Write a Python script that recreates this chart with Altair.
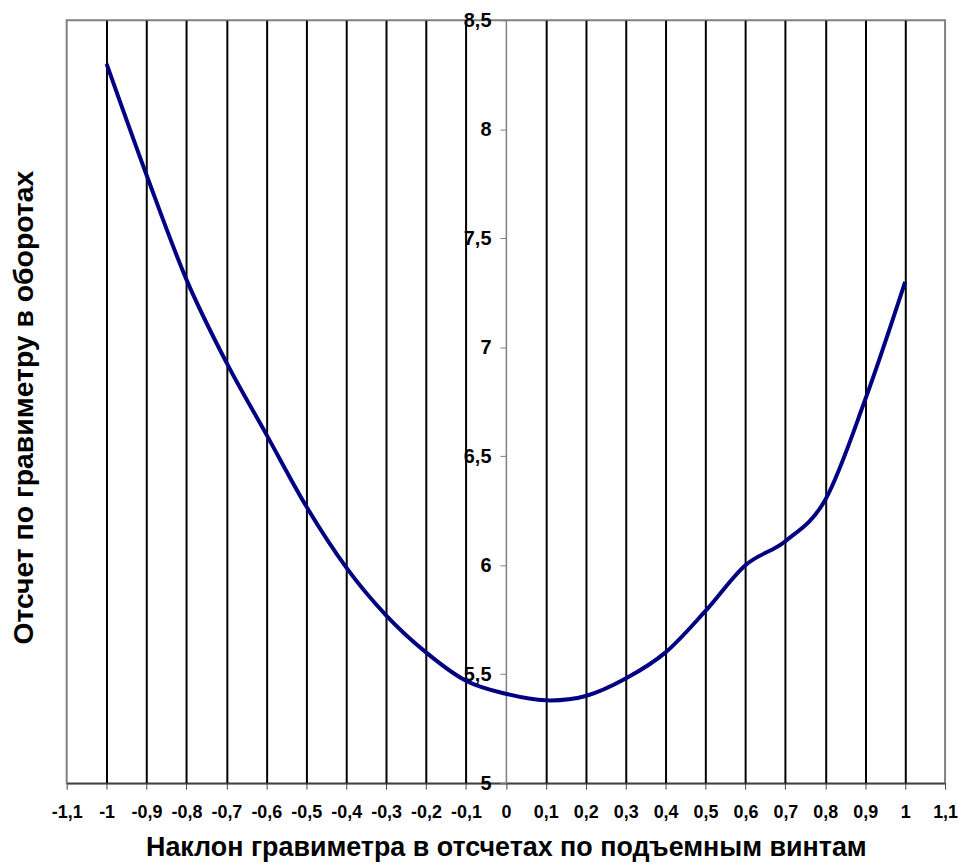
import altair as alt
import pandas as pd

# Data
x_vals = [-1.0, -0.9, -0.8, -0.7, -0.6, -0.5, -0.4, -0.3, -0.2, -0.1, 0.0,
          0.1, 0.2, 0.3, 0.4, 0.5, 0.6, 0.7, 0.8, 0.9, 1.0]
y_vals = [8.30, 7.79, 7.31, 6.93, 6.60, 6.27, 5.99, 5.77, 5.60, 5.47, 5.41,
          5.38, 5.40, 5.48, 5.60, 5.79, 6.00, 6.11, 6.30, 6.76, 7.30]

x_ticks = [-1.1, -1.0, -0.9, -0.8, -0.7, -0.6, -0.5, -0.4, -0.3, -0.2, -0.1, 0.0,
           0.1, 0.2, 0.3, 0.4, 0.5, 0.6, 0.7, 0.8, 0.9, 1.0, 1.1]
y_ticks = [5.0, 5.5, 6.0, 6.5, 7.0, 7.5, 8.0, 8.5]

x_title = "Наклон гравиметра в отсчетах  по подъемным винтам"
y_title = "Отсчет по гравиметру в оборотах"

df = pd.DataFrame({"x": x_vals, "y": y_vals})

FONT = "Liberation Sans"
label_expr = "replace(toString(datum.value), '.', ',')"

W, H = 883, 767

chart = alt.Chart(df).mark_line(
    interpolate="cardinal", color="#000080", strokeWidth=4
).encode(
    x=alt.X(
        "x:Q",
        scale=alt.Scale(domain=[-1.1, 1.1], nice=False, zero=False),
        axis=alt.Axis(
            values=x_ticks,
            labelExpr=label_expr,
            title=x_title,
            grid=True,
            gridColor="black",
            gridWidth=2,
            gridOpacity={"condition": {"test": "abs(datum.value) < 0.05 || abs(datum.value) > 1.05", "value": 0}, "value": 1},
            domainColor="#404040",
            domainWidth=1.5,
            tickColor="#404040",
            tickSize=6,
            labelFont=FONT,
            labelFontSize=18,
            labelFontWeight="bold",
            labelColor="black",
            labelPadding=15,
            labelOverlap=False,
            labelFlush=False,
            titleFont=FONT,
            titleFontSize=27,
            titleFontWeight="bold",
            titleColor="black",
            titlePadding=13,
        ),
    ),
    y=alt.Y(
        "y:Q",
        scale=alt.Scale(domain=[5, 8.5], nice=False, zero=False),
        axis=alt.Axis(
            values=y_ticks,
            labelExpr=label_expr,
            offset=-W / 2,
            grid=False,
            domainColor="#808080",
            domainWidth=1.5,
            tickColor="#808080",
            tickSize=6,
            labelFont=FONT,
            labelFontSize=20,
            labelFontWeight="bold",
            labelColor="black",
            labelPadding=9,
            labelOverlap=False,
            labelFlush=False,
            title=y_title,
            titleFont=FONT,
            titleFontSize=28.5,
            titleFontWeight="bold",
            titleColor="black",
            titleAngle=-90,
            titleAlign="center",
            titleBaseline="middle",
            titleX=24 - (67 + W / 2),
            titleY=389,
        ),
    ),
).properties(
    width=W,
    height=H,
    padding={"left": 59, "top": 10, "right": 14, "bottom": 82},
    autosize="none",
).configure_view(
    stroke="#808080", strokeWidth=2
)

chart.save("out.html", embed_options={"renderer": "svg", "actions": False})
